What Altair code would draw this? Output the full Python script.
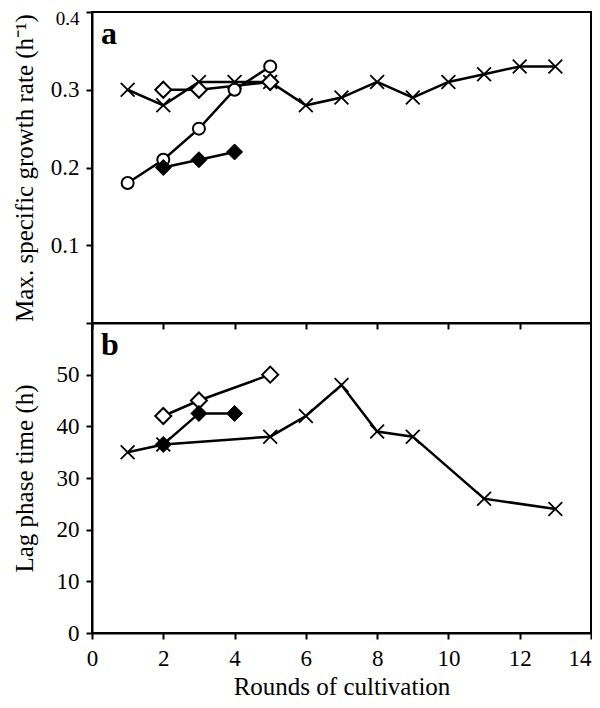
import altair as alt
import pandas as pd

# ---- Panel a: max. specific growth rate ----
rounds_cross_a = [1, 2, 3, 4, 5, 6, 7, 8, 9, 10, 11, 12, 13]
rate_cross = [0.30, 0.28, 0.31, 0.31, 0.31, 0.28, 0.29, 0.31, 0.29, 0.31, 0.32, 0.33, 0.33]
rounds_circle_a = [1, 2, 3, 4, 5]
rate_circle = [0.18, 0.21, 0.25, 0.30, 0.33]
rounds_open_diamond_a = [2, 3, 5]
rate_open_diamond = [0.30, 0.30, 0.31]
rounds_filled_diamond_a = [2, 3, 4]
rate_filled_diamond = [0.20, 0.21, 0.22]

# ---- Panel b: lag phase time ----
rounds_cross_b = [1, 2, 5, 6, 7, 8, 9, 11, 13]
lag_cross = [35, 36.5, 38, 42, 48, 39, 38, 26, 24]
rounds_open_diamond_b = [2, 3, 5]
lag_open_diamond = [42, 45, 50]
rounds_filled_diamond_b = [2, 3, 4]
lag_filled_diamond = [36.5, 42.5, 42.5]

x_ticks = [0, 2, 4, 6, 8, 10, 12, 14]
a_ticks = [0, 0.1, 0.2, 0.3, 0.4]
b_ticks = [0, 10, 20, 30, 40, 50]

FONT = "Liberation Serif"
X_PATH = "M -1 -1 L 1 1 M -1 1 L 1 -1"

W = 499


def series(xs, ys, xenc, yenc, kind):
    df = pd.DataFrame({"x": xs, "y": ys})
    line = alt.Chart(df).mark_line(color="black", strokeWidth=2.5).encode(x=xenc, y=yenc)
    if kind == "cross":
        pt = alt.Chart(df).mark_point(shape=X_PATH, filled=False, stroke="black",
                                      strokeWidth=1.8, size=190, opacity=1)
    elif kind == "circle":
        pt = alt.Chart(df).mark_point(shape="circle", filled=True, fill="white", stroke="black",
                                      strokeWidth=2, size=144, opacity=1, fillOpacity=1)
    elif kind == "open_diamond":
        pt = alt.Chart(df).mark_point(shape="diamond", filled=True, fill="white", stroke="black",
                                      strokeWidth=2, size=256, opacity=1, fillOpacity=1)
    else:
        pt = alt.Chart(df).mark_point(shape="diamond", filled=True, fill="black", stroke="black",
                                      strokeWidth=1, size=256, opacity=1, fillOpacity=1)
    return [line, pt.encode(x=xenc, y=yenc)]


def label(txt):
    return alt.Chart(pd.DataFrame({"t": [txt]})).mark_text(
        font=FONT, fontSize=32, fontWeight="bold", align="left", baseline="alphabetic", color="black"
    ).encode(text="t:N", x=alt.value(9), y=alt.value(32))


xa = alt.X("x:Q", scale=alt.Scale(domain=[0, 14], nice=False),
           axis=alt.Axis(values=x_ticks, labels=False, title=None))
ya = alt.Y("y:Q", scale=alt.Scale(domain=[0, 0.4], nice=False),
           axis=alt.Axis(values=a_ticks, format=".1f",
                         labelExpr="datum.value == 0 ? '' : datum.label",
                         labelFontSize={"condition": {"test": "datum.value > 0.39", "value": 19},
                                        "value": 23},
                         labelOffset={"condition": {"test": "datum.value > 0.39", "value": 6},
                                      "value": 0},
                         title="Max. specific growth rate (h⁻¹)"))

xb = alt.X("x:Q", scale=alt.Scale(domain=[0, 14], nice=False),
           axis=alt.Axis(values=x_ticks, title="Rounds of cultivation",
                         labelAlign={"condition": {"test": "datum.value == 14", "value": "right"},
                                     "value": "center"}))
yb = alt.Y("y:Q", scale=alt.Scale(domain=[0, 60], nice=False),
           axis=alt.Axis(values=b_ticks, title="Lag phase time (h)"))

layers_a = (series(rounds_cross_a, rate_cross, xa, ya, "cross")
            + series(rounds_open_diamond_a, rate_open_diamond, xa, ya, "open_diamond")
            + series(rounds_circle_a, rate_circle, xa, ya, "circle")
            + series(rounds_filled_diamond_a, rate_filled_diamond, xa, ya, "filled_diamond")
            + [label("a")])
layers_b = (series(rounds_cross_b, lag_cross, xb, yb, "cross")
            + series(rounds_open_diamond_b, lag_open_diamond, xb, yb, "open_diamond")
            + series(rounds_filled_diamond_b, lag_filled_diamond, xb, yb, "filled_diamond")
            + [label("b")])

panel_a = alt.layer(*layers_a).properties(width=W, height=311)
panel_b = alt.layer(*layers_b).properties(width=W, height=310)

chart = (
    alt.vconcat(panel_a, panel_b, spacing=0, bounds="flush")
    .properties(padding={"left": 3, "top": 0, "right": -1, "bottom": 0}, background="white")
    .configure_view(stroke="black", strokeWidth=2)
    .configure_axis(
        grid=False,
        domainColor="black", domainWidth=2,
        tickColor="black", tickWidth=2, tickSize=6,
        labelFont=FONT, labelFontSize=23, labelColor="black",
        titleFont=FONT, titleFontSize=25, titleFontWeight="normal", titleColor="black",
    )
    .configure_axisY(titlePadding=8, labelPadding=7, minExtent=47, maxExtent=47)
    .configure_axisX(titlePadding=4, labelPadding=8)
)

chart.save("out.html", embed_options={"renderer": "svg", "actions": False})
